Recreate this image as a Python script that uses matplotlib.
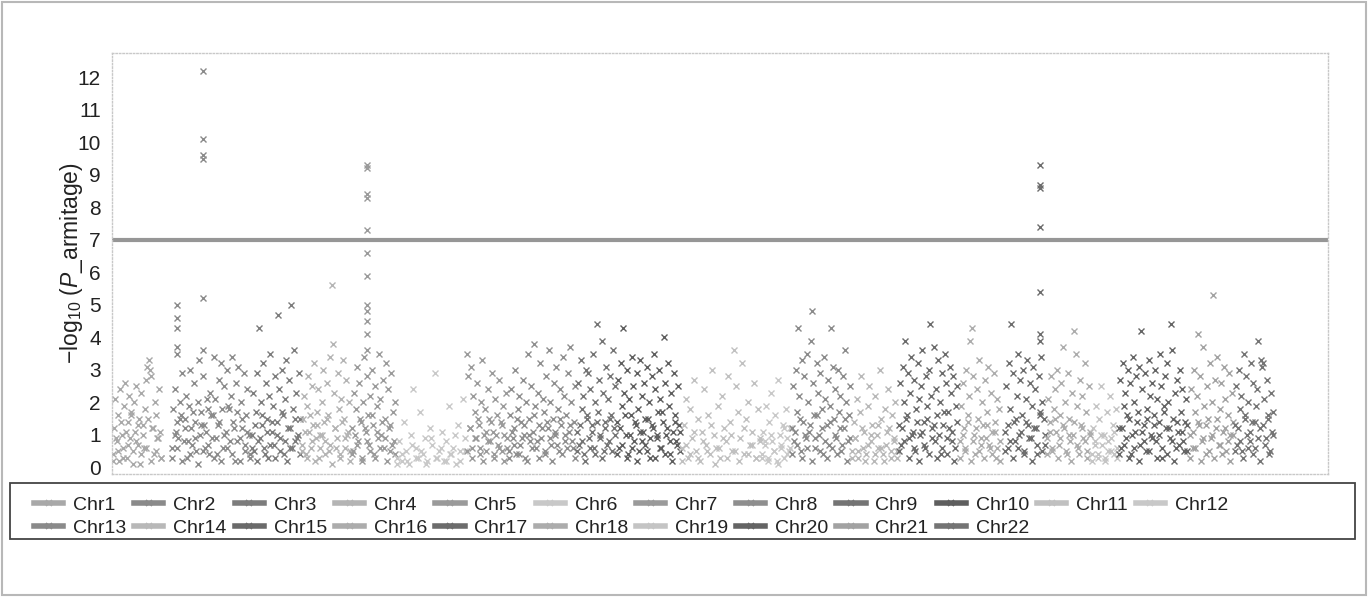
import numpy as np
import matplotlib
matplotlib.use("Agg")
import matplotlib.pyplot as plt
from matplotlib.lines import Line2D
from matplotlib.patches import Rectangle

plt.rcParams['font.family'] = ['Liberation Sans', 'DejaVu Sans']
plt.rcParams['mathtext.fontset'] = 'custom'
plt.rcParams['mathtext.rm'] = 'Liberation Sans'
plt.rcParams['mathtext.it'] = 'Liberation Sans:italic'

# ---------------- data ----------------
chromosomes = [f"Chr{i}" for i in range(1, 23)]

# genomic span of each chromosome on the shared x axis (arbitrary position units)
chr_start = [1, 60, 140, 190, 240, 285, 355, 397, 465, 505, 570, 650,
             680, 740, 787, 848, 893, 935, 980, 1007, 1078, 1123]
chr_end = [49, 138, 188, 238, 283, 353, 395, 463, 503, 568, 648, 678,
           738, 785, 845, 888, 933, 978, 1005, 1075, 1121, 1161]

# -log10(P) of the SNPs in each chromosome, in position order
chr_vals = [
    [0.4, 1.2, 2.1, 0.8, 1.6, 0.2, 2.4, 1.0, 0.6, 1.9, 2.6, 0.3, 1.4, 2.2, 0.9, 1.7, 0.5, 2.0, 1.1, 2.5,
     0.7, 1.5, 0.1, 2.3, 1.3, 0.6, 1.8, 2.7, 3.1, 3.3, 3.0, 2.8, 1.2, 0.4, 2.0, 1.6, 0.9, 2.4, 1.1, 0.3],
    [0.6, 1.8, 2.4, 1.1, 1.4, 0.9, 2.0, 1.6, 2.9, 0.8, 1.5, 2.2, 0.3, 1.9, 3.0, 1.2, 0.7, 2.6, 1.4, 0.5,
     2.0, 3.3, 1.0, 1.7, 2.8, 1.3, 0.6, 2.1, 1.8, 0.4, 2.3, 0.9, 1.6, 3.4, 2.1, 0.4, 1.3, 2.7, 3.2, 1.8,
     0.6, 2.5, 1.1, 3.0, 1.9, 0.8, 2.2, 3.4, 1.4, 0.2, 2.6, 1.7, 3.1, 0.9, 2.0, 1.2, 2.9, 0.5, 1.6, 2.4,
     1.0, 0.3],
    [1.0, 2.3, 0.5, 1.7, 2.9, 0.8, 4.3, 2.0, 1.3, 3.2, 0.6, 2.6, 1.5, 0.3, 2.2, 3.5, 1.1, 1.9, 0.7, 2.8,
     1.4, 4.7, 2.4, 0.9, 3.0, 1.6, 0.4, 2.1, 3.3, 1.2, 2.7, 0.6, 5.0, 1.8, 3.6, 0.8, 2.3, 1.0, 2.9, 1.5],
    [0.7, 1.5, 2.2, 0.4, 1.9, 2.8, 1.1, 0.6, 2.5, 1.3, 3.2, 0.9, 1.7, 2.4, 0.3, 1.0, 2.0, 3.0, 1.4, 0.8,
     2.6, 1.6, 0.5, 3.4, 5.6, 3.8, 2.3, 1.2, 0.6, 2.9, 1.8, 0.4, 2.1, 3.3, 1.5, 0.9, 2.7, 1.1, 2.0, 0.5],
    [1.2, 0.5, 2.3, 1.8, 3.1, 0.8, 2.6, 1.4, 0.3, 2.0, 3.4, 1.1, 2.8, 1.6, 0.7, 2.2, 3.0, 1.3, 0.4, 2.5,
     1.9, 0.9, 3.5, 2.1, 1.0, 2.7, 0.6, 1.5, 3.2, 2.4, 1.2, 0.5, 2.9, 1.7, 0.8, 2.0],
    [0.3, 0.8, 0.2, 1.4, 0.5, 0.1, 1.0, 2.4, 0.6, 0.3, 1.7, 0.4, 0.9, 0.2, 1.2, 0.7, 2.9, 0.3, 0.5, 1.1,
     0.2, 0.8, 1.9, 0.4, 0.6, 0.1, 1.3, 0.5, 2.1, 0.9],
    [3.5, 2.8, 1.2, 3.1, 0.6, 2.2, 1.7, 0.9, 2.6, 1.3, 0.4, 2.0, 3.3, 1.0, 1.8, 0.5, 2.4, 1.5, 0.8, 2.9,
     1.1, 0.3, 2.1, 1.6, 0.7, 2.7, 1.4, 0.5, 1.9, 1.0, 2.3, 0.6],
    [0.5, 1.6, 2.4, 0.9, 1.2, 3.0, 0.4, 1.8, 2.2, 0.7, 1.4, 2.7, 1.0, 0.3, 2.0, 3.5, 1.5, 0.8, 2.5, 1.1,
     3.8, 1.9, 0.6, 2.3, 1.3, 3.2, 0.9, 2.1, 1.7, 0.4, 2.8, 1.2, 3.6, 2.0, 0.7, 1.5, 2.6, 1.0, 3.1, 1.8,
     0.5, 2.4, 1.3, 3.4, 2.2, 0.8, 1.6, 2.9, 1.1, 3.7, 2.0, 0.6, 1.4, 2.5],
    [1.1, 2.6, 0.7, 3.3, 1.8, 2.2, 0.4, 3.0, 1.5, 2.9, 0.9, 2.4, 1.3, 3.5, 0.6, 2.0, 4.4, 1.7, 2.7, 1.0,
     3.9, 2.3, 0.5, 1.4, 3.1, 2.1, 0.8, 2.8, 1.6, 3.6, 1.2, 2.5],
    [1.4, 2.7, 0.6, 3.2, 1.9, 4.3, 2.3, 1.0, 3.0, 0.4, 2.1, 1.6, 3.4, 2.5, 0.8, 1.3, 2.9, 1.8, 0.5, 3.3,
     2.2, 1.1, 2.6, 0.7, 3.1, 1.5, 2.0, 0.3, 2.8, 1.2, 3.5, 2.4, 0.9, 1.7, 3.0, 2.1, 0.6, 1.4, 4.0, 2.6,
     1.0, 3.2, 1.9, 0.4, 2.3, 1.1, 2.9, 1.6, 0.8, 2.5, 1.3, 0.5],
    [0.6, 1.3, 2.1, 0.3, 1.8, 0.9, 2.7, 0.5, 1.5, 0.2, 1.1, 2.4, 0.7, 1.6, 0.4, 3.0, 1.0, 0.6, 1.9, 0.3,
     2.2, 1.2, 0.8, 2.8, 1.4, 0.5, 3.6, 2.5, 1.7, 0.9, 3.2, 0.4, 1.5, 2.0, 0.7, 1.1, 2.6, 0.3, 1.8, 0.8],
    [0.4, 1.1, 0.7, 1.9, 0.3, 1.4, 2.3, 0.8, 0.5, 1.6, 0.2, 2.7, 1.0, 0.6, 1.3, 0.3, 1.8, 0.9, 0.5, 1.2],
    [1.2, 2.5, 0.8, 3.0, 1.7, 4.3, 2.2, 0.5, 3.3, 1.4, 2.8, 0.9, 3.5, 2.0, 1.1, 3.9, 4.8, 2.6, 1.6, 0.6,
     3.2, 2.3, 1.0, 2.9, 1.8, 0.4, 3.4, 2.1, 1.3, 2.7, 0.7, 1.9, 4.3, 3.1, 1.5, 2.4, 0.9, 3.0, 1.7, 2.2,
     0.5, 2.8, 1.2, 3.6, 2.0, 0.8, 1.6, 2.5],
    [0.5, 1.4, 0.9, 2.1, 0.3, 1.7, 2.8, 0.6, 1.1, 0.4, 1.9, 2.5, 0.8, 1.3, 0.2, 2.2, 1.0, 0.6, 3.0, 1.5,
     0.4, 1.8, 0.7, 2.4, 1.2, 0.3, 1.6, 0.9, 2.0, 0.5],
    [1.3, 2.6, 0.7, 3.1, 2.0, 3.9, 1.5, 2.9, 0.9, 2.3, 3.4, 1.1, 2.7, 0.5, 1.8, 3.2, 2.1, 1.0, 2.5, 3.6,
     1.4, 0.6, 2.8, 1.9, 3.0, 4.4, 2.2, 1.2, 3.7, 0.8, 2.4, 1.6, 3.3, 2.0, 0.4, 2.9, 1.3, 3.5, 2.6, 0.9,
     1.7, 3.1, 2.3, 1.1, 2.8, 0.6, 1.9, 2.5],
    [0.8, 1.9, 2.6, 1.2, 0.5, 3.0, 1.6, 2.2, 3.9, 4.3, 2.8, 1.0, 0.4, 2.4, 1.5, 3.3, 0.7, 2.0, 1.3, 2.7,
     0.9, 1.7, 3.1, 0.6, 2.3, 1.1, 2.9, 1.4, 0.3, 2.1, 1.8, 0.8],
    [1.1, 2.5, 0.6, 3.2, 1.8, 4.4, 2.9, 1.4, 0.8, 2.2, 3.5, 1.0, 2.7, 1.6, 3.0, 0.5, 2.1, 3.3, 1.3, 2.6,
     0.9, 1.9, 3.1, 2.4, 1.2, 0.4, 2.8, 1.7, 3.4, 2.0, 1.5, 0.7],
    [0.9, 2.1, 1.4, 2.8, 0.5, 1.8, 2.4, 1.1, 3.0, 0.7, 1.6, 2.6, 3.7, 1.2, 2.0, 0.4, 2.9, 1.5, 0.8, 2.3,
     1.0, 4.2, 3.5, 1.9, 0.6, 2.7, 1.3, 2.2, 0.9, 3.2, 1.7, 0.5, 2.5, 1.1],
    [0.4, 1.2, 0.8, 1.9, 0.3, 1.5, 2.5, 0.7, 1.0, 0.2, 1.7, 0.5, 2.2, 0.9, 1.3, 0.4, 1.8, 0.6],
    [1.2, 2.7, 0.6, 3.2, 1.9, 2.3, 0.9, 3.0, 1.5, 2.6, 0.4, 3.4, 2.0, 1.1, 2.8, 1.7, 3.1, 0.7, 4.2, 2.4,
     1.3, 2.9, 0.5, 1.8, 3.3, 2.2, 1.0, 2.6, 1.6, 3.0, 0.8, 2.1, 1.4, 3.5, 2.5, 0.3, 1.9, 2.8, 1.2, 3.2,
     2.0, 0.9, 4.4, 3.6, 1.5, 2.3, 0.6, 2.7, 1.1, 3.0, 1.7, 2.4, 0.8, 1.4, 2.1, 0.5],
    [1.0, 2.4, 0.6, 3.0, 1.7, 2.2, 4.1, 1.3, 2.8, 0.8, 3.7, 1.9, 0.4, 2.5, 1.5, 3.2, 0.9, 2.0, 5.3, 2.7,
     1.2, 3.4, 0.7, 1.8, 2.6, 1.1, 3.1, 2.1, 0.5, 1.6, 2.9, 1.0, 2.3, 1.4],
    [1.3, 2.5, 0.7, 3.0, 1.8, 2.2, 0.5, 3.5, 1.6, 2.8, 1.0, 2.0, 0.8, 3.2, 1.4, 2.6, 0.6, 1.9, 2.4, 3.9,
     1.2, 3.3, 3.1, 3.2, 2.1, 0.9, 2.7, 1.5, 0.4, 2.3, 1.1, 1.7],
]

# the many weakly associated SNPs near the base of each chromosome
chr_vals_low = [
    [0.2, 0.9, 0.5, 1.4, 0.3, 1.1, 0.7, 1.6, 0.1, 0.8, 1.3, 0.4, 1.0, 0.6, 1.5, 0.2, 1.2, 0.5, 0.9, 0.3],
    [0.3, 1.0, 0.6, 1.5, 0.2, 1.2, 0.8, 0.4, 1.7, 0.9, 0.1, 1.3, 0.5, 1.1, 0.7, 1.6, 0.3, 0.9, 1.4, 0.2,
     1.0, 0.6, 1.8, 0.4, 1.2, 0.8, 0.2, 1.5, 0.7, 1.1, 0.4],
    [0.6, 1.3, 0.2, 0.9, 1.6, 0.4, 1.1, 0.7, 1.4, 0.3, 1.0, 0.5, 1.7, 0.8, 0.2, 1.2, 0.6, 1.5, 0.9, 0.4],
    [0.5, 1.1, 0.3, 1.6, 0.8, 0.2, 1.3, 0.6, 1.0, 0.4, 1.5, 0.7, 0.1, 1.2, 0.9, 0.3, 1.4, 0.6, 1.0, 0.2],
    [0.4, 1.0, 0.7, 1.5, 0.2, 1.2, 0.8, 0.5, 1.6, 0.3, 1.1, 0.6, 1.4, 0.9, 0.2, 1.3, 0.7, 0.4],
    [0.1, 0.4, 0.2, 0.7, 0.3, 0.5, 0.1, 0.9, 0.3, 0.6, 0.2, 0.4, 1.0, 0.2, 0.5],
    [0.5, 1.2, 0.3, 0.9, 1.5, 0.6, 0.2, 1.1, 0.8, 1.4, 0.4, 1.0, 0.6, 1.3, 0.2, 0.9],
    [0.3, 1.1, 0.7, 1.5, 0.4, 0.9, 1.3, 0.2, 1.0, 0.6, 1.6, 0.8, 0.3, 1.2, 0.5, 1.4, 0.9, 0.2, 1.1, 0.7,
     1.5, 0.4, 1.0, 0.6, 1.3, 0.8, 0.3],
    [0.5, 1.3, 0.8, 0.2, 1.6, 0.6, 1.1, 0.4, 1.4, 0.9, 0.3, 1.2, 0.7, 1.5, 0.5, 1.0],
    [0.4, 1.2, 0.7, 1.6, 0.3, 1.0, 0.6, 1.4, 0.2, 1.1, 0.8, 1.5, 0.5, 0.9, 1.3, 0.3, 1.0, 0.6, 1.7, 0.4,
     1.2, 0.8, 0.2, 1.4, 0.7, 1.1],
    [0.2, 0.7, 0.4, 1.1, 0.3, 0.8, 0.5, 1.3, 0.1, 0.6, 0.9, 0.3, 1.0, 0.5, 0.2, 1.2, 0.4, 0.7, 0.3, 0.9],
    [0.3, 0.8, 0.2, 1.0, 0.5, 0.1, 0.7, 1.2, 0.4, 0.6],
    [0.4, 1.1, 0.7, 1.5, 0.3, 1.0, 0.6, 1.3, 0.2, 0.9, 1.6, 0.5, 1.2, 0.8, 0.3, 1.4, 0.6, 1.0, 0.4, 1.2,
     0.7, 1.5, 0.2, 0.9],
    [0.3, 0.9, 0.5, 1.2, 0.2, 0.7, 1.0, 0.4, 1.3, 0.6, 0.2, 1.1, 0.5, 0.8, 0.3],
    [0.5, 1.2, 0.8, 1.6, 0.3, 1.0, 0.6, 1.4, 0.2, 1.1, 0.7, 1.5, 0.4, 0.9, 1.3, 0.3, 1.0, 0.6, 1.7, 0.4,
     1.2, 0.8, 0.2, 1.4],
    [0.3, 1.0, 0.6, 1.4, 0.2, 0.8, 1.2, 0.5, 0.9, 0.3, 1.3, 0.7, 0.4, 1.1, 0.6, 0.2],
    [0.5, 1.3, 0.8, 0.3, 1.5, 0.6, 1.1, 0.4, 1.4, 0.9, 0.2, 1.2, 0.7, 1.6, 0.5, 1.0],
    [0.4, 1.1, 0.6, 1.5, 0.3, 0.9, 1.3, 0.5, 1.0, 0.2, 1.4, 0.7, 0.4, 1.2, 0.8, 0.3, 1.0],
    [0.2, 0.7, 0.4, 1.0, 0.3, 0.8, 0.5, 1.1, 0.3],
    [0.4, 1.2, 0.7, 1.6, 0.3, 1.0, 0.6, 1.4, 0.2, 1.1, 0.8, 1.5, 0.5, 0.9, 1.3, 0.3, 1.0, 0.6, 1.7, 0.4,
     1.2, 0.8, 0.2, 1.4, 0.7, 1.1, 0.5, 1.3],
    [0.3, 1.1, 0.6, 1.4, 0.2, 0.9, 1.3, 0.5, 1.0, 0.3, 1.5, 0.7, 0.4, 1.2, 0.8, 0.2, 1.0],
    [0.5, 1.2, 0.8, 0.3, 1.5, 0.6, 1.1, 0.4, 1.4, 0.9, 0.2, 1.3, 0.7, 1.6, 0.5, 1.0],
]

# clusters of SNPs at one locus (chromosome index, fraction along chromosome, values)
locus_chr = [1, 1, 4, 16]
locus_frac = [0.07, 0.40, 0.36, 0.875]
locus_vals = [
    [5.0, 4.6, 4.3, 3.7, 3.5],
    [12.2, 10.1, 9.6, 9.5, 5.2, 3.6],
    [9.3, 9.2, 8.4, 8.3, 7.3, 6.6, 5.9, 5.0, 4.8, 4.5, 4.1, 3.6],
    [9.3, 8.7, 8.6, 7.4, 5.4, 4.1, 3.9],
]

threshold = 7
y_ticks = list(range(0, 13))

chr_colors = ['#a8a8a8', '#8a8a8a', '#7c7c7c', '#b4b4b4', '#9a9a9a', '#c8c8c8',
              '#9a9a9a', '#8e8e8e', '#747474', '#5e5e5e', '#c0c0c0', '#c8c8c8',
              '#8a8a8a', '#b8b8b8', '#6a6a6a', '#acacac', '#6c6c6c', '#acacac',
              '#c4c4c4', '#646464', '#a2a2a2', '#747474']

# ---------------- figure ----------------
W, H = 1368, 597
fig = plt.figure(figsize=(W / 100, H / 100), dpi=100)
ax = fig.add_axes([112 / W, 1 - 474 / H, (1328 - 112) / W, (474 - 53) / H])

ax.axhline(threshold, color='#969696', lw=3.0, zorder=1)

for i in range(22):
    for vals in (chr_vals[i], chr_vals_low[i]):
        xs = np.linspace(chr_start[i], chr_end[i], len(vals))
        ax.plot(xs, vals, ls='none', marker='x', ms=4.5, mew=1.0,
                color=chr_colors[i], zorder=2)

for c, f, vals in zip(locus_chr, locus_frac, locus_vals):
    xpos = chr_start[c] + f * (chr_end[c] - chr_start[c])
    ax.plot([xpos] * len(vals), vals, ls='none', marker='x', ms=4.5, mew=1.0,
            color=chr_colors[c], zorder=3)

ax.set_xlim(0, 1216)
ax.set_ylim(-0.2, 12.75)
ax.set_xticks([])
ax.set_yticks(y_ticks)
ax.set_yticklabels([str(t) for t in y_ticks])
ax.tick_params(axis='y', length=0, pad=8, labelsize=15, labelcolor='#222222')
for s in ax.spines.values():
    s.set_color('#c8c8c8')
    s.set_linestyle((0, (1, 1.5)))
    s.set_linewidth(1.0)

ax.set_ylabel(r'$-\mathrm{log}_{10}$ ($P$_armitage)', fontsize=16.5, color='#222222')
ax.yaxis.set_label_coords(-0.022, 0.5)

# legend
handles = [Line2D([0], [0], color=chr_colors[i], lw=4, marker='x', ms=5, mew=1.2)
           for i in range(22)]
order = []
for col in range(12):
    order.append(col)
    if col + 12 < 22:
        order.append(col + 12)
leg = fig.legend([handles[k] for k in order], [chromosomes[k] for k in order],
                 ncol=12, loc='upper left', bbox_to_anchor=(34 / W, 1 - 496 / H),
                 frameon=False, fontsize=14, handlelength=1.5, handletextpad=0.5,
                 columnspacing=0.42, labelspacing=0.3, borderpad=0, borderaxespad=0,
                 numpoints=1)
for t in leg.get_texts():
    t.set_color('#222222')

fig.patches.append(Rectangle((10 / W, 1 - 539 / H), (1355 - 10) / W, (539 - 483) / H,
                             transform=fig.transFigure, fill=False,
                             edgecolor='#444444', lw=1.3))
fig.patches.append(Rectangle((2 / W, 2 / H), (W - 4) / W, (H - 4) / H,
                             transform=fig.transFigure, fill=False,
                             edgecolor='#b8b8b8', lw=1.5))

fig.savefig('out.png', dpi=100)
